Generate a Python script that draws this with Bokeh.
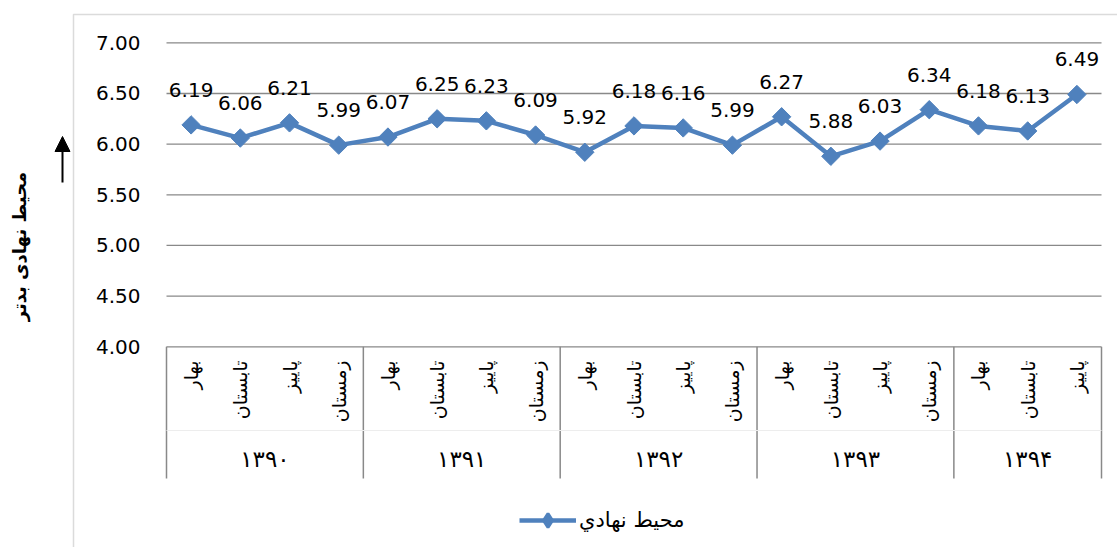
import math
from bokeh.plotting import figure
from bokeh.models import (Range1d, ColumnDataSource, Legend, LegendItem, Arrow,
                          NormalHead, BoxAnnotation)
from bokeh.core.properties import value
from bokeh.embed import file_html
from bokeh.resources import INLINE

# ---------------- data ----------------
years = ["۱۳۹۰", "۱۳۹۱", "۱۳۹۲", "۱۳۹۳", "۱۳۹۴"]
seasons = ["بهار", "تابستان", "پاییز", "زمستان"]
season_counts = [4, 4, 4, 4, 3]
values = [6.19, 6.06, 6.21, 5.99, 6.07, 6.25, 6.23, 6.09, 5.92, 6.18,
          6.16, 5.99, 6.27, 5.88, 6.03, 6.34, 6.18, 6.13, 6.49]
y_ticks = [4.0, 4.5, 5.0, 5.5, 6.0, 6.5, 7.0]
series_name = "محيط نهادي"
y_title = "محیط نهادی بدتر"

# ---------------- derived ----------------
season_of = [s for n in season_counts for s in seasons[:n]]
n_cat = len(season_of)
xs = [i + 0.5 for i in range(n_cat)]
labels = ["%.2f" % v for v in values]
tick_labels = ["%.2f" % t for t in y_ticks]
bounds = [0]
for n in season_counts:
    bounds.append(bounds[-1] + n)
year_centers = [(bounds[k] + bounds[k + 1]) / 2 for k in range(len(years))]

# ---------------- layout (pixels) ----------------
W, H = 1117, 547
PLOT_L, PLOT_R = 166, 1101          # plot area in pixels
Y4_PX, PX_PER_UNIT = 346.3, 101.33  # pixel row of y=4.0, pixels per y-unit
px_cat = (PLOT_R - PLOT_L) / n_cat
x_range = Range1d(-PLOT_L / px_cat, (W - PLOT_L) / px_cat)
y_range = Range1d(4 - (H - Y4_PX) / PX_PER_UNIT, 4 + Y4_PX / PX_PER_UNIT)
y_min, y_max = y_ticks[0], y_ticks[-1]


def y_at(px):
    return 4 + (Y4_PX - px) / PX_PER_UNIT


BLUE = "#4F81BD"
GRAY = "#898989"
FONT = value("DejaVu Sans")

p = figure(width=W, height=H, x_range=x_range, y_range=y_range,
           x_axis_location=None, y_axis_location=None,
           output_backend="svg", toolbar_location=None,
           min_border=0, min_border_left=0, min_border_right=0,
           min_border_top=0, min_border_bottom=0)
p.outline_line_color = None
p.background_fill_color = "white"
p.border_fill_color = "white"
p.grid.visible = False

# outer chart border (left and top edges visible)
p.add_layout(BoxAnnotation(left=73, right=W + 50, top=H - 14, bottom=-50,
                           left_units="screen", right_units="screen",
                           top_units="screen", bottom_units="screen",
                           fill_alpha=0, line_color=GRAY, line_width=1.5))

# horizontal grid lines
p.segment(x0=[0] * len(y_ticks), y0=y_ticks, x1=[n_cat] * len(y_ticks), y1=y_ticks,
          line_color=GRAY, line_width=1.3)
# y tick labels
p.text(x=[0] * len(y_ticks), y=y_ticks, text=tick_labels, x_offset=-26,
       text_align="right", text_baseline="middle", text_font=FONT,
       text_font_size="20px", text_color="black")

# y axis title and arrow
p.text(x=[0], y=[y_at(246)], text=[y_title], x_offset=19 - PLOT_L, angle=math.pi / 2,
       text_align="center", text_baseline="middle", text_font=FONT,
       text_font_style="bold", text_font_size="18px", text_color="black")
p.add_layout(Arrow(end=NormalHead(size=15, fill_color="black", line_color="black"),
                   x_start=62, y_start=H - 182, x_end=62, y_end=H - 136,
                   start_units="screen", end_units="screen",
                   line_color="black", line_width=2))

# category table
p.segment(x0=bounds, y0=[y_min] * len(bounds), x1=bounds, y1=[y_at(478)] * len(bounds),
          line_color=GRAY, line_width=1.5)
p.segment(x0=[0], y0=[y_at(430)], x1=[n_cat], y1=[y_at(430)], line_color="#ededed",
          line_width=1)
p.text(x=xs, y=[y_at(360)] * n_cat, text=season_of, angle=math.pi / 2,
       text_align="right", text_baseline="middle", text_font=FONT,
       text_font_size="19px", text_color="black")
p.text(x=year_centers, y=[y_at(458)] * len(years), text=years, text_align="center",
       text_baseline="middle", text_font=FONT, text_font_size="23px", text_color="black")

# series
src = ColumnDataSource(dict(x=xs, y=values, lab=labels))
ln = p.line(x="x", y="y", source=src, line_color=BLUE, line_width=4.5)
mk = p.scatter(x="x", y="y", source=src, marker="square", angle=math.pi / 4, size=13,
               fill_color=BLUE, line_color=BLUE)
p.text(x="x", y="y", text="lab", source=src, y_offset=-35, text_align="center",
       text_baseline="middle", text_font=FONT, text_font_size="20px", text_color="black")

# legend (legend-only glyphs, not drawn in the plot, so the key shows a diamond)
nan = float("nan")
leg_src = ColumnDataSource(dict(x=[nan], y=[nan]))
leg_ln = p.line(x="x", y="y", source=leg_src, line_color=BLUE, line_width=4.5)
leg_mk = p.scatter(x="x", y="y", source=leg_src, marker="diamond", size=13,
                   fill_color=BLUE, line_color=BLUE, line_width=3)
legend = Legend(items=[LegendItem(label=series_name, renderers=[leg_ln, leg_mk])],
                location=(519, H - 537), orientation="horizontal", margin=0, padding=4,
                border_line_color=None, background_fill_alpha=0,
                glyph_width=57, glyph_height=34, label_standoff=3,
                label_text_font="DejaVu Sans", label_text_font_size="21px",
                label_text_color="black")
p.add_layout(legend, "center")

open("out.html", "w").write(file_html(p, INLINE))
